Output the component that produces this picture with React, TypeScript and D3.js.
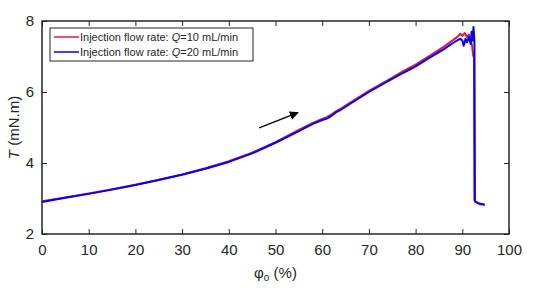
import { useEffect, useRef } from "react";
import * as d3 from "d3";

const xTicks = [0, 10, 20, 30, 40, 50, 60, 70, 80, 90, 100];
const yTicks = [2, 4, 6, 8];
const seriesNames = ["Q=10 mL/min", "Q=20 mL/min"];
const seriesColors = ["#e2183f", "#0000ff"];

// Q = 10 mL/min
const phi10 = [0, 5, 10, 15, 20, 25, 30, 35, 40, 45, 50, 55, 58, 60, 61, 62, 63, 64, 66, 70, 74, 77, 78, 80, 83, 86, 88, 89, 89.6, 90, 90.5, 91, 91.4, 91.8, 92.1, 92.3, 92.5, 92.6, 93, 93.5, 94, 94.8];
const torque10 = [2.92, 3.03, 3.14, 3.26, 3.39, 3.53, 3.68, 3.85, 4.05, 4.29, 4.59, 4.93, 5.13, 5.24, 5.29, 5.37, 5.46, 5.53, 5.7, 6.03, 6.33, 6.56, 6.63, 6.77, 7.02, 7.27, 7.46, 7.56, 7.64, 7.58, 7.66, 7.55, 7.62, 7.45, 7.3, 7.05, 6.95, 2.95, 2.9, 2.87, 2.85, 2.83];

// Q = 20 mL/min
const phi20 = [0, 5, 10, 15, 20, 25, 30, 35, 40, 45, 50, 55, 58, 60, 61, 62, 63, 64, 66, 70, 74, 77, 78, 80, 83, 86, 88, 89, 89.6, 90, 90.3, 90.7, 91, 91.4, 91.8, 92, 92.2, 92.4, 92.6, 92.7, 93, 93.5, 94, 94.8];
const torque20 = [2.9, 3.02, 3.13, 3.25, 3.38, 3.52, 3.67, 3.84, 4.03, 4.27, 4.57, 4.9, 5.1, 5.21, 5.25, 5.33, 5.43, 5.5, 5.67, 6.0, 6.3, 6.52, 6.58, 6.72, 6.97, 7.2, 7.38, 7.46, 7.5, 7.45, 7.3, 7.5, 7.4, 7.55, 7.35, 7.7, 7.45, 7.83, 7.4, 2.92, 2.89, 2.86, 2.84, 2.82];

const arrowFrom = [46.5, 4.99];
const arrowTo = [54.8, 5.42];

export default function App() {
  const ref = useRef<SVGSVGElement>(null);
  const width = 540;
  const height = 288;
  const ml = 42, mr = 31, mt = 21, mb = 54;

  useEffect(() => {
    const svg = d3.select(ref.current);
    svg.selectAll("*").remove();
    const font = "Helvetica, Arial, 'Liberation Sans', sans-serif";

    const x = d3.scaleLinear().domain([0, 100]).range([ml, width - mr]);
    const y = d3.scaleLinear().domain([2, 8]).range([height - mb, mt]);

    const line = d3.line<[number, number]>().x(d => x(d[0])).y(d => y(d[1]));
    const data = [d3.zip(phi10, torque10), d3.zip(phi20, torque20)] as [number, number][][];

    data.forEach((d, i) => {
      svg.append("path").attr("d", line(d)).attr("fill", "none")
        .attr("stroke", seriesColors[i]).attr("stroke-width", 2).attr("stroke-linejoin", "round");
    });

    // frame
    svg.append("rect").attr("x", ml).attr("y", mt).attr("width", width - ml - mr).attr("height", height - mt - mb)
      .attr("fill", "none").attr("stroke", "#262626").attr("stroke-width", 1.5);

    const bottom = svg.append("g").attr("transform", `translate(0,${height - mb})`)
      .call(d3.axisBottom(x).tickValues(xTicks).tickSizeInner(-5).tickSizeOuter(0).tickPadding(10));
    const top = svg.append("g").attr("transform", `translate(0,${mt})`)
      .call(d3.axisTop(x).tickValues(xTicks).tickSizeInner(-5).tickSizeOuter(0).tickFormat(() => ""));
    const left = svg.append("g").attr("transform", `translate(${ml},0)`)
      .call(d3.axisLeft(y).tickValues(yTicks).tickSizeInner(-5).tickSizeOuter(0).tickPadding(8).tickFormat(d3.format("d")));
    const right = svg.append("g").attr("transform", `translate(${width - mr},0)`)
      .call(d3.axisRight(y).tickValues(yTicks).tickSizeInner(-5).tickSizeOuter(0).tickFormat(() => ""));
    [bottom, top, left, right].forEach(g => {
      g.select(".domain").remove();
      g.selectAll("line").attr("stroke", "#262626").attr("stroke-width", 1);
      g.selectAll("text").attr("font-family", font).attr("font-size", 15).attr("fill", "#262626");
    });

    // arrow
    svg.append("defs").append("marker").attr("id", "ah").attr("viewBox", "0 0 10 10")
      .attr("refX", 9).attr("refY", 5).attr("markerWidth", 6).attr("markerHeight", 6)
      .attr("orient", "auto").append("path").attr("d", "M0,0 L10,5 L0,10 z").attr("fill", "#000");
    svg.append("line").attr("x1", x(arrowFrom[0])).attr("y1", y(arrowFrom[1]))
      .attr("x2", x(arrowTo[0])).attr("y2", y(arrowTo[1]))
      .attr("stroke", "#000").attr("stroke-width", 1.5).attr("marker-end", "url(#ah)");

    // legend
    const lg = svg.append("g").attr("transform", "translate(50,28)");
    lg.append("rect").attr("width", 203).attr("height", 33).attr("fill", "#fff")
      .attr("stroke", "#262626").attr("stroke-width", 1);
    seriesNames.forEach((n, i) => {
      const yy = 9 + i * 15;
      lg.append("line").attr("x1", 4).attr("x2", 29).attr("y1", yy).attr("y2", yy)
        .attr("stroke", seriesColors[i]).attr("stroke-width", 1.5);
      const t = lg.append("text").attr("x", 30).attr("y", yy + 4).attr("font-family", font)
        .attr("font-size", 11).attr("fill", "#262626");
      t.append("tspan").text("Injection flow rate: ");
      t.append("tspan").attr("font-style", "italic").text("Q");
      t.append("tspan").text(n.slice(1));
    });

    // axis labels
    const xl = svg.append("text").attr("x", (ml + width - mr) / 2).attr("y", 278)
      .attr("text-anchor", "middle").attr("font-family", font).attr("font-size", 15).attr("fill", "#262626");
    xl.append("tspan").text("φ");
    xl.append("tspan").attr("font-size", 10).attr("dy", 3).text("o");
    xl.append("tspan").attr("dy", -3).text(" (%)");

    const yl = svg.append("text").attr("transform", `translate(19,${(mt + height - mb) / 2}) rotate(-90)`)
      .attr("text-anchor", "middle").attr("font-family", font).attr("font-size", 15).attr("fill", "#262626");
    yl.append("tspan").attr("font-style", "italic").text("T");
    yl.append("tspan").text(" (mN.m)");
  }, []);

  return (
    <svg ref={ref} width={width} height={height} style={{ position: "absolute", left: 0, top: 0, background: "#fff" }} />
  );
}
